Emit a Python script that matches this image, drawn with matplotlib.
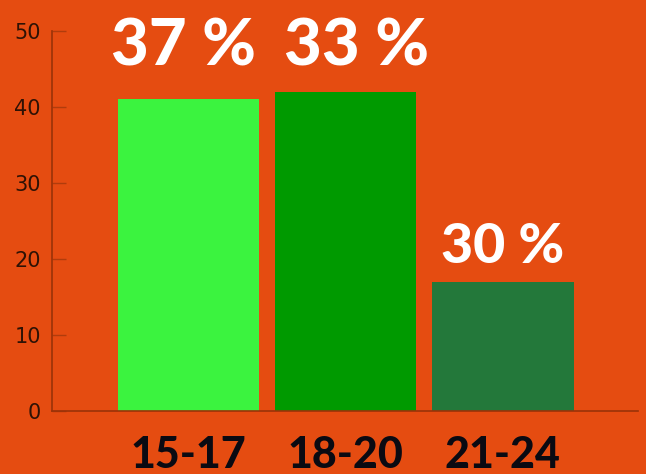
import matplotlib
matplotlib.use("Agg")
import matplotlib.pyplot as plt

# data
age_groups = ["15-17", "18-20", "21-24"]
counts = [41, 42, 17]
share_labels = ["37 %", "33 %", "30 %"]
bar_colors = ["#3BF33F", "#009A00", "#23783A"]

bg = "#E54C11"

fig = plt.figure(figsize=(6.46, 4.74), dpi=100, facecolor=bg)
ax = fig.add_axes([0.0805, 0.133, 0.907, 0.8016], facecolor=bg)

x = range(len(age_groups))
bars = ax.bar(x, counts, width=0.9, color=bar_colors)

ax.set_xlim(-0.87, 2.86)
ax.set_ylim(0, 50)
ax.set_yticks([0, 10, 20, 30, 40, 50])

for s in ["top", "right"]:
    ax.spines[s].set_visible(False)
for s in ["left", "bottom"]:
    ax.spines[s].set_color("#9A3208")
    ax.spines[s].set_linewidth(1.2)

ax.tick_params(axis="y", direction="in", length=10, width=1, color="#B03C0C",
               labelsize=15, labelcolor="#2E1205", pad=8)
ax.set_xticks(list(x))
ax.set_xticklabels(age_groups, fontsize=31, fontweight="black", family="Lato",
                   color="#0A0A12")
ax.tick_params(axis="x", length=0, pad=17)

# percent labels above the bars
label_y = [45.5, 45.5, 19.5]
label_dx = [-0.03, 0.07, 0.0]
sizes = [47, 47, 40]
for i, lab in enumerate(share_labels):
    ax.text(i + label_dx[i], label_y[i], lab, ha="center", va="baseline",
            color="white", fontsize=sizes[i], fontweight="black", family="Lato")

fig.savefig("out.png", dpi=100, facecolor=bg)
